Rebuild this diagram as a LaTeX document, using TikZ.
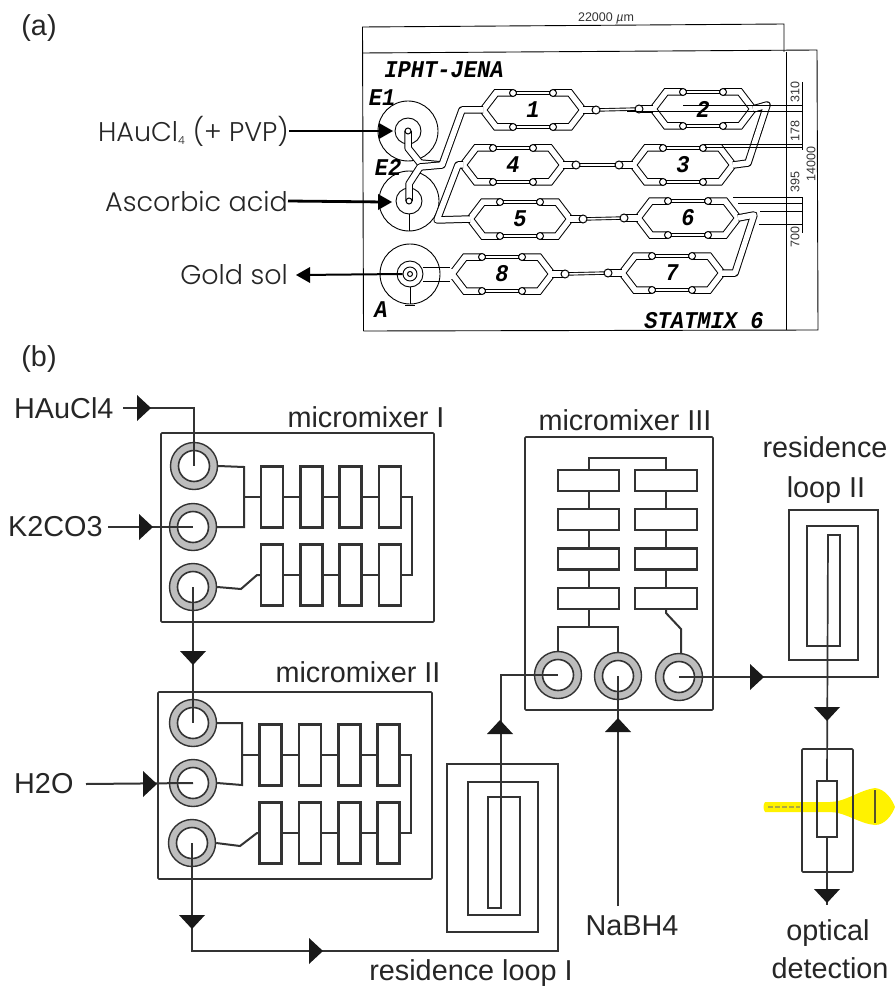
\documentclass[tikz,border=0pt]{standalone}
\usepackage{fontspec}
\usetikzlibrary{calc}
\setmainfont{Liberation Sans}
\newfontfamily\gothic{Poppins Light}
\newfontfamily\stencil{Liberation Mono}[FakeStretch=0.92]
\definecolor{ln}{HTML}{333333}
\definecolor{ring}{HTML}{BDBDBD}
\tikzset{
  lab/.style={inner sep=0pt,text=black!85,font=\fontsize{28.8}{32}\selectfont},
  glab/.style={inner sep=0pt,text=black!85,font=\gothic\fontsize{27}{30}\selectfont},
  dimlab/.style={inner sep=0pt,text=black!80,font=\fontsize{12.5}{14}\selectfont},
  stlab/.style={inner sep=0pt,text=black,font=\stencil\bfseries\itshape\fontsize{24}{26}\selectfont},
  thinln/.style={draw=black,line width=0.9pt},
  fatln/.style={draw=black,line width=2.8pt},
  chan/.style={draw=black,line width=1pt,double=white,double distance=5.5pt,line join=miter},
  chanb/.style={chan,line join=round},
  fine/.style={draw=black,line width=0.9pt,double=white,double distance=1.6pt},
  bulb/.style={circle,draw=black,fill=white,line width=1pt,minimum size=7pt,inner sep=0pt},
  pad/.style={circle,draw=black,line width=0.9pt,inner sep=0pt},
  wire/.style={draw=ln,line width=2pt,line join=miter},
  box/.style={draw=ln,line width=1.6pt,rounded corners=1pt},
  cell/.style={rectangle,draw=ln,line width=2.2pt,fill=white,inner sep=0pt},
  ringo/.style={circle,draw=ln,fill=ring,line width=1.4pt,minimum size=47pt,inner sep=0pt},
  ringi/.style={circle,draw=ln,fill=white,line width=1.6pt,minimum size=31pt,inner sep=0pt},
  tri/.pic={\fill[black!90] (-7,-13)--(7,0)--(-7,13)--cycle;},
  smalltri/.pic={\fill[black] (-14,-8)--(0,0)--(-14,8)--cycle;}
}
% hexagonal mixing stage of panel (a)
\newcommand\hexm[4]{%
  \coordinate (#1-l) at (#2-50,#3);
  \coordinate (#1-r) at (#2+50,#3);
  \draw[chan] (#2-50,#3)--(#2-37,#3-17)--(#2+37,#3-17)--(#2+50,#3)--(#2+37,#3+17)--(#2-37,#3+17)--cycle;
  \draw[white,line width=9pt] (#2-20,#3-17)--(#2+20,#3-17) (#2-20,#3+17)--(#2+20,#3+17);
  \draw[fine] (#2-20,#3-17)--(#2+20,#3-17);
  \draw[fine] (#2-20,#3+17)--(#2+20,#3+17);
  \foreach \sx in {-20,20}{\foreach \sy in {-17,17}{\node[bulb] at (#2+\sx,#3+\sy) {};}}
  \node[stlab] at (#2,#3) {#4};
}
\newcommand\ringport[3]{\node[ringo] (#1) at (#2,#3) {};\node[ringi] at (#1) {};}
% row of four cells of a two row mixer
\newcommand\mixrow[6]{%
  \foreach \cx/\ci in {#2/1,#3/2,#4/3,#5/4}{\node[cell,minimum width=22pt,minimum height=61pt] (#1\ci) at (\cx,#6) {};}
  \draw[wire] (#11.east)--(#12.west) (#12.east)--(#13.west) (#13.east)--(#14.west);
}
\begin{document}
\begin{tikzpicture}[x=1pt,y=-1pt]
\useasboundingbox (0,0) rectangle (895,987);
\fill[white] (0,0) rectangle (895,987);

% ---------- panel (a) ----------
\node[lab] (la) at (39,28) {(a)};
\node[lab] (lb) at (39,359) {(b)};

\coordinate (ftl) at (362.5,27);\coordinate (ftr) at (784,24);
\coordinate (fml) at (362.5,53);\coordinate (fmr) at (817,50);
\coordinate (fbl) at (363.5,331);\coordinate (fbr) at (818,330);
\draw[thinln] (fbl)--(ftl)--(ftr)--(784,52);
\draw[thinln] (fml)--(fmr)--(fbr)--(fbl);
\draw[thinln] (786,52)--(786,330);
\node[dimlab] at (606,18) {22000 {\itshape µ}m};
\node[dimlab,rotate=90] at (795,92) {310};
\node[dimlab,rotate=90] at (795,131) {178};
\node[dimlab,rotate=90] at (795,182) {395};
\node[dimlab,rotate=90] at (795,237) {700};
\node[dimlab,rotate=90] at (811,164) {14000};
\draw[thinln] (802,82)--(802,150) (802,197)--(802,233);

\node[stlab] at (444,70) {IPHT-JENA};
\node[stlab] at (704,321) {STATMIX 6};
\node[stlab] at (382,98) {E1};
\node[stlab] at (388,167) {E2};
\node[stlab] at (381,310) {A};

% inlet and outlet pads
\node[pad,minimum size=60pt] (E1) at (408,131) {};
\node[pad,minimum size=60pt] (E2) at (409,201) {};
\node[pad,minimum size=60pt] (Aa) at (410,274) {};
\node[pad,minimum size=26pt] (E1i) at (E1) {};
\node[pad,minimum size=26pt] (E2i) at (E2) {};
\node[pad,minimum size=26pt] (Ai) at (Aa) {};
\node[pad,minimum size=14pt] (Ap) at (Aa) {};
\draw[thinln] (E2i.south)--(E2.south);
\draw[thinln] (Ai.south)--(Aa.south) (405,305)--(415,305);

% stages
\hexm{h1}{533}{110}{1}
\hexm{h2}{703}{109}{2}
\hexm{h4}{513}{165}{4}
\hexm{h3}{683}{165}{3}
\hexm{h5}{520}{219}{5}
\hexm{h6}{688}{218}{6}
\hexm{h8}{502}{274}{8}
\hexm{h7}{672}{273}{7}

% channels between stages
\foreach \a/\b in {h1-r/h2-l,h4-r/h3-l,h5-r/h6-l,h8-r/h7-l}{
  \draw[chan] (\a)--++(13,0) coordinate (pa);
  \draw[chan] (\b)--++(-14,0) coordinate (pb);
  \draw[white,line width=5pt] (pa)--(pb);
  \draw[fine] (pa)--(pb);
  \node[bulb,minimum size=8pt] at (pa) {};
  \node[bulb,minimum size=8pt] at (pb) {};
}
% feed channels
\coordinate (ym) at (442,165);
\coordinate (t1) at (462,110);
\draw[chanb] (E1.center)--(408,148)--(420,163)--(ym);
\draw[chanb] (E2.center)--(409,184)--(420,167)--(ym)--(t1)--(h1-l);
\node[bulb,minimum size=6pt] at (E1) {};
\node[bulb,minimum size=6pt] at (E2) {};
\node[bulb,minimum size=5pt] at (Aa) {};
\coordinate (c21) at (767,105);\coordinate (c23) at (748,163);
\draw[chanb] (h2-r)--(c21)--(c23)--(h3-r);
\coordinate (c41) at (458,165);\coordinate (c45) at (437,220);
\draw[chanb] (h4-l)--(c41)--(c45)--(h5-l);
\coordinate (c61) at (754,215);\coordinate (c67) at (735,273);
\draw[chanb] (h6-r)--(c61)--(c67)--(h7-r);
% outlet lines to A
\draw[white,line width=10pt] (443,274)--(452,274);
\draw[thinln] (423,267)--(450,267) (423,281)--(450,281);
% dimension lines
\draw[thinln] (683,105)--(802,105) (627,111)--(802,111);
\draw[thinln] (705,144)--(802,144) (705,147)--(802,147);
\draw[thinln] (733,197)--(802,197) (738,203)--(802,203) (760,211)--(802,211) (759,224)--(802,224);

% inputs and output labels
\node[glab,anchor=east] (t1a) at (289,131) {HAuCl\textsubscript{\fontsize{11}{12}\selectfont 4} (+ PVP)};
\node[glab,anchor=east] (t2a) at (288,201) {Ascorbic acid};
\node[glab,anchor=east] (t3a) at (288,275) {Gold sol};
\draw[fatln] (t1a.east)--(385,131);
\draw[fatln] (t2a.east)--(385,202);
\pic at (393,131) {smalltri};
\pic at (392,202) {smalltri};
\draw[draw=black,line width=2pt] (Ap.west)--(300,275);
\pic[rotate=180] at (296,275) {smalltri};

% ---------- panel (b) ----------
\fill[yellow] (765,802) .. controls (763,805) and (763,809) .. (765,812) -- (830,812) .. controls (845,812) and (860,824) .. (875,825)
  .. controls (885,825) and (892,815) .. (895,807) .. controls (892,799) and (885,789) .. (875,788)
  .. controls (860,790) and (845,802) .. (830,802) -- cycle;
\draw[draw=yellow!65!black,line width=1.5pt,dash pattern=on 5pt off 2pt] (768,807)--(800,807);
\draw[draw=olive!50!black,line width=2pt] (875,790)--(875,823);
\draw[draw=olive!50!black,line width=1.5pt] (853,802)--(853,812);

\node[lab] (ml1) at (366,417) {micromixer I};
\node[lab] (ml2) at (358,672) {micromixer II};
\node[lab] (ml3) at (625,420) {micromixer III};
\node[lab] at (825,447) {residence};
\node[lab] at (826,490) {loop II};
\node[lab] at (471,973) {residence loop I};
\node[lab] at (828,933) {optical};
\node[lab] at (830,968) {detection};

% micromixer I
\draw[box] (161,433) rectangle (434,622);
\ringport{a1}{194}{466}
\ringport{a2}{193}{527}
\ringport{a3}{193}{587}
\mixrow{au}{272}{311.5}{350.5}{390}{497}
\mixrow{ad}{272}{311.5}{350.5}{390}{575}
\draw[wire] (a1.east)--(244,467)--(244,527)--(a2.east);
\draw[wire] (244,497)--(au1.west);
\draw[wire] (au4.east)--(412,497)--(412,575)--(ad4.east);
\draw[wire] (a3.east)--(241,589)--(257,575)--(ad1.west);

% micromixer II
\draw[box] (158,692) rectangle (432,879);
\ringport{b1}{193}{723}
\ringport{b2}{193}{783}
\ringport{b3}{192}{843}
\mixrow{bu}{270.5}{310}{349.5}{388.5}{755}
\mixrow{bd}{270.5}{310}{349.5}{388.5}{833}
\draw[wire] (b1.east)--(242,723)--(242,785)--(b2.east);
\draw[wire] (242,755)--(bu1.west);
\draw[wire] (bu4.east)--(411,755)--(411,833)--(bd4.east);
\draw[wire] (b3.east)--(240,846)--(257,833)--(bd1.west);

% micromixer III
\draw[box] (525,437) rectangle (713,710);
\ringport{c1}{558}{675}
\ringport{c2}{618}{676}
\ringport{c3}{679}{677}
\foreach \cy/\ci in {480.5/1,519.5/2,559/3,598.5/4}{
  \node[cell,minimum width=61pt,minimum height=21pt] (cl\ci) at (588.5,\cy) {};
  \node[cell,minimum width=62pt,minimum height=21pt] (cr\ci) at (666,\cy) {};
}
\draw[wire] (cl1.north)--(588.5,458)--(666,458)--(cr1.north);
\draw[wire] (cl1.south)--(cl2.north) (cl2.south)--(cl3.north) (cl3.south)--(cl4.north);
\draw[wire] (cr1.south)--(cr2.north) (cr2.south)--(cr3.north) (cr3.south)--(cr4.north);
\draw[wire] (cl4.south)--(588.5,627);
\draw[wire] (c1.north)--(558,627)--(618,627)--(c2.north);
\draw[wire] (cr4.south)--(666,613)--(681,629)--(681,654);

% residence loop II and detection cell
\node[cell,draw=ln,line width=1.6pt,fill=none,minimum width=20pt,minimum height=56pt] (det) at (827,809) {};
\draw[box] (802,749) rectangle (853,872);
\coordinate (lo2) at (878,677);
\coordinate (lo3) at (878,510);
\draw[wire,line width=1.7pt] (c3.center)--(lo2)--(lo3)--(789,510)--(789,660)--(858,660)--(858,526)--(807,526)--(807,646)--(840,646)--(840,535)--(828,535)--(det.north);
\coordinate (o1) at (827,905);
\draw[wire] (det.south)--(o1);
\pic at (757,677) {tri};
\pic[rotate=-90] at (827,714) {tri};
\pic[rotate=-90] at (827,896) {tri};

% residence loop I and its connections
\coordinate (f1) at (192,951);
\coordinate (f2) at (558,951);
\draw[wire,line width=1.7pt] (b3.center)--(f1)--(f2)--(558,764)--(447,764)--(447,932)--(538,932)--(538,782)--(468,782)--(468,915)--(520,915)--(520,797)--(488,797)--(488,908)--(501,908)--(501,675)--(c1.center);
\pic at (316,951) {tri};
\pic[rotate=90] at (500,727) {tri};
\pic[rotate=-90] at (192,922) {tri};

% inputs
\node[lab,anchor=west] (i1) at (14,408) {HAuCl4};
\node[lab,anchor=west] (i2) at (8,527) {K2CO3};
\node[lab,anchor=west] (i3) at (14,784) {H2O};
\node[lab] (i4) at (632,926) {NaBH4};
\coordinate (nb) at (618,906);
\coordinate (w1) at (123,408);
\coordinate (w2) at (108,527);
\coordinate (w3) at (86,784);
\draw[wire] (w1)--(194,408)--(a1.center);
\draw[wire] (w2)--(a2.center);
\draw[wire] (w3)--(b2.center);
\draw[wire] (a3.center)--(b1.center);
\draw[wire] (nb)--(c2.center);
\pic at (144,408) {tri};
\pic at (146,527) {tri};
\pic at (150,784) {tri};
\pic[rotate=-90] at (193,658) {tri};
\pic[rotate=90] at (618,725) {tri};
\end{tikzpicture}
\end{document}
